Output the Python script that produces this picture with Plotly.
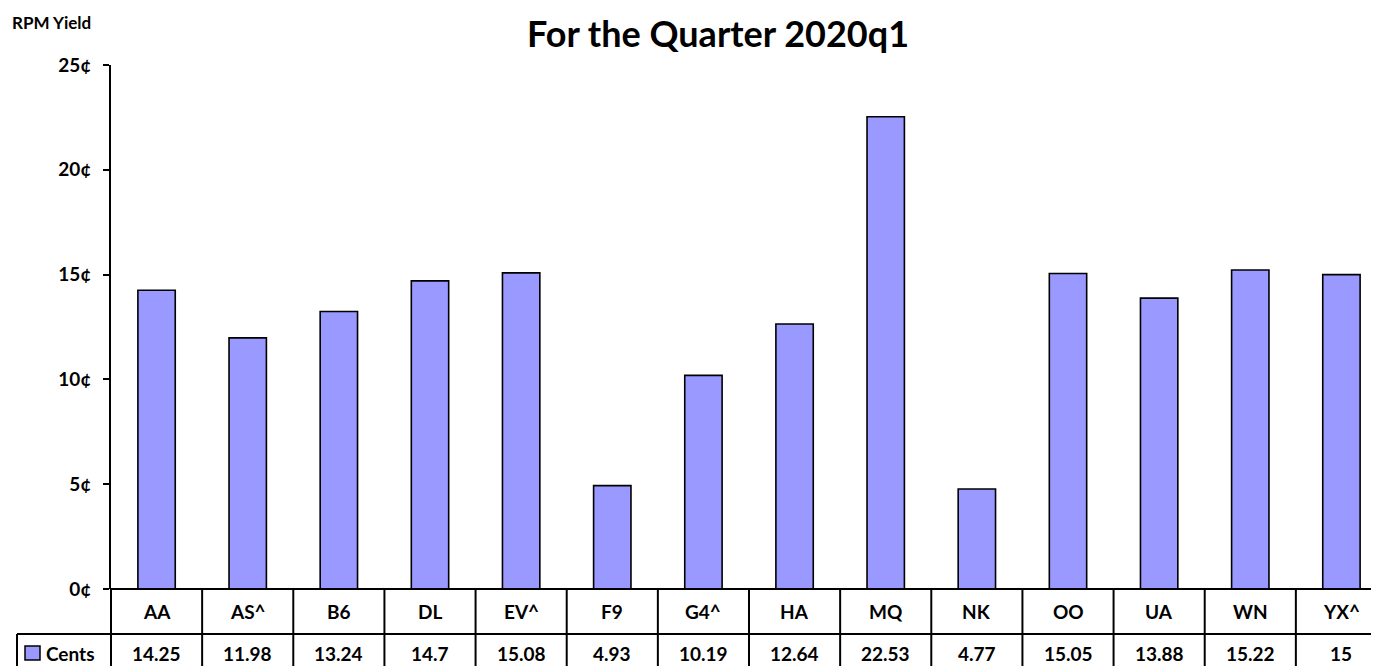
import plotly.graph_objects as go

# ---------------- data ----------------
categories = ["AA", "AS^", "B6", "DL", "EV^", "F9", "G4^", "HA", "MQ", "NK", "OO", "UA", "WN", "YX^"]
cents = [14.25, 11.98, 13.24, 14.7, 15.08, 4.93, 10.19, 12.64, 22.53, 4.77, 15.05, 13.88, 15.22, 15]
value_labels = ["14.25", "11.98", "13.24", "14.7", "15.08", "4.93", "10.19", "12.64", "22.53",
                "4.77", "15.05", "13.88", "15.22", "15"]
ytick_vals = [0, 5, 10, 15, 20, 25]
ytick_text = ["0¢", "5¢", "10¢", "15¢", "20¢", "25¢"]
series_name = "Cents"
chart_title = "For the Quarter 2020q1"
axis_title = "RPM Yield"

# ---------------- style ----------------
W, H = 1379, 666
ML, MR, MT, MB = 103, 0, 57, 85
PW = W - ML - MR
PH = H - MT - MB
FONT = "Lato"
BAR_COLOR = "#9999FF"
ROW_H = 45      # px height of category row in the data table
LEG_LEFT = 9    # px left edge of legend cell
VAL_Y = ROW_H + 19  # px below zero for value-row text centre

def px_x(px):
    return (px - ML) / PW

def px_y(px_below_zero):
    return -px_below_zero / PH

n = len(categories)

fig = go.Figure()
fig.add_trace(go.Bar(
    x=categories, y=cents, name=series_name,
    marker=dict(color=BAR_COLOR, line=dict(color="black", width=1.6)),
    width=0.41, showlegend=False,
))

shapes = []
line = dict(color="black", width=2)
y_row1 = px_y(ROW_H)
y_bot = px_y(2 * ROW_H + 4)
# horizontal lines
shapes.append(dict(type="line", xref="paper", yref="paper", x0=0, x1=1, y0=0, y1=0, line=line))
shapes.append(dict(type="line", xref="paper", yref="paper", x0=px_x(LEG_LEFT), x1=1,
                   y0=y_row1, y1=y_row1, line=line))
# vertical lines
for i in range(n + 1):
    xp = i / n
    shapes.append(dict(type="line", xref="paper", yref="paper", x0=xp, x1=xp,
                       y0=0, y1=y_bot, line=line))
shapes.append(dict(type="line", xref="paper", yref="paper", x0=px_x(LEG_LEFT), x1=px_x(LEG_LEFT),
                   y0=y_row1, y1=y_bot, line=line))
# legend key square
shapes.append(dict(type="rect", xref="paper", yref="paper",
                   x0=px_x(17), x1=px_x(32), y0=px_y(VAL_Y - 7), y1=px_y(VAL_Y + 7),
                   fillcolor=BAR_COLOR, line=dict(color="black", width=1.5)))

annotations = []
cell_font = dict(family=FONT, size=19, color="black", weight="bold")
for c, v in zip(categories, value_labels):
    annotations.append(dict(x=c, xref="x", y=px_y(ROW_H / 2), yref="paper", text=c,
                            showarrow=False, font=cell_font, xanchor="center", yanchor="middle"))
    annotations.append(dict(x=c, xref="x", y=px_y(VAL_Y), yref="paper", text=v,
                            showarrow=False, font=cell_font, xanchor="center", yanchor="middle"))
annotations.append(dict(x=px_x(36), xref="paper", y=px_y(VAL_Y), yref="paper", text=series_name,
                        showarrow=False, font=cell_font, xanchor="left", yanchor="middle"))
annotations.append(dict(x=px_x(2), xref="paper", y=1 + (MT - 15) / PH, yref="paper", text=axis_title,
                        showarrow=False, font=dict(family=FONT, size=17, color="black", weight="bold"),
                        xanchor="left", yanchor="middle"))

fig.update_layout(
    width=W, height=H,
    margin=dict(l=ML, r=MR, t=MT, b=MB, autoexpand=False),
    paper_bgcolor="white", plot_bgcolor="white",
    title=dict(text=chart_title, x=710 / W, xref="container", y=1 - 26 / H, yref="container",
               xanchor="center", yanchor="middle",
               font=dict(family=FONT, size=36, color="black", weight="bold")),
    xaxis=dict(range=[-0.5, n - 0.5], showticklabels=False, showgrid=False, zeroline=False,
               showline=False, ticks=""),
    yaxis=dict(range=[0, 25], tickvals=ytick_vals, ticktext=ytick_text, showgrid=False,
               zeroline=False, showline=True, linecolor="black", linewidth=2,
               ticks="outside", ticklen=6, tickwidth=2, tickcolor="black",
               ticklabelstandoff=8,
               tickfont=dict(family=FONT, size=19, color="black", weight="bold")),
    shapes=shapes, annotations=annotations,
    bargap=0.59,
)

fig.write_html("out.html")
